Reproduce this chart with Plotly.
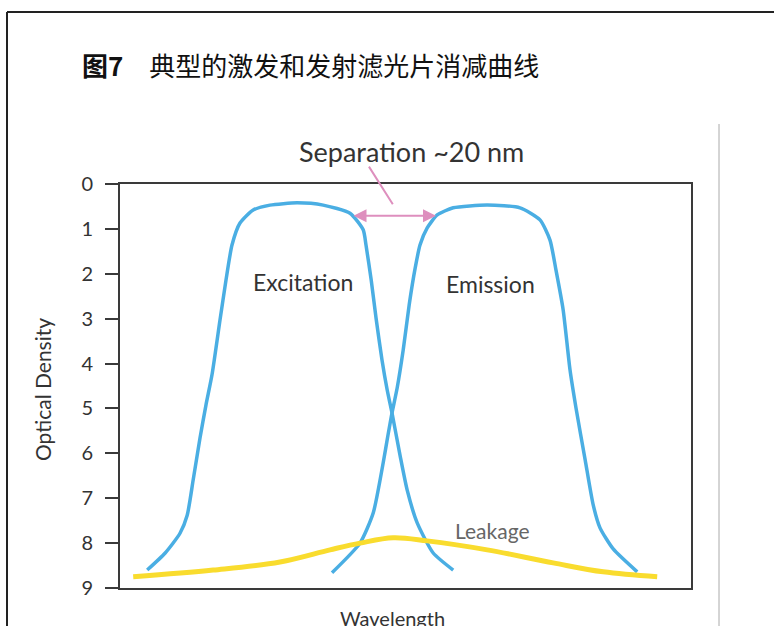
import plotly.graph_objects as go

# ---- data (wavelength in nm, optical density) ----
exc_wl = [446.8, 451.3, 455.0, 456.8, 458.3, 460.0, 461.5, 463.0, 465.0, 466.5, 468.0,
          470.0, 473.3, 477.5, 484.3, 490.8, 497.5, 500.8, 501.5, 502.8, 504.0, 505.5,
          506.8, 508.0, 510.0, 511.8, 514.3, 518.3, 523.3]
exc_od = [8.60, 8.22, 7.78, 7.38, 6.59, 5.66, 4.92, 4.25, 3.03, 2.14, 1.36,
          0.87, 0.58, 0.47, 0.42, 0.47, 0.65, 1.02, 1.36, 2.14, 2.98, 3.92,
          4.59, 5.10, 6.04, 6.82, 7.55, 8.22, 8.60]

emi_wl = [493.0, 500.0, 503.3, 505.8, 507.0, 508.0, 509.3, 510.8, 512.3, 513.8, 515.0,
          516.8, 519.3, 523.3, 531.8, 540.0, 545.0, 547.5, 549.0, 550.8, 552.5, 554.0,
          556.3, 558.3, 560.0, 563.3, 569.3]
emi_od = [8.66, 8.00, 7.33, 6.21, 5.59, 5.10, 4.54, 3.70, 2.69, 1.87, 1.36,
          0.98, 0.69, 0.53, 0.47, 0.53, 0.80, 1.25, 1.92, 2.81, 4.14, 4.99,
          6.15, 7.15, 7.66, 8.13, 8.64]

leak_wl = [443.3, 463.3, 480.0, 492.5, 500.0, 508.3, 516.8, 531.8, 548.3, 560.8, 574.3]
leak_od = [8.75, 8.60, 8.42, 8.15, 8.00, 7.88, 7.95, 8.15, 8.44, 8.64, 8.75]

y_ticks = [0, 1, 2, 3, 4, 5, 6, 7, 8, 9]

sep_from, sep_to, sep_od = 498.0, 519.0, 0.71

W, H = 774, 626
L, R, T, B = 120, 691, 184, 588


def px(xp):
    return (xp - L) / (R - L)


def py(yp):
    return (B - yp) / (B - T)


BLUE = "#4AAEE3"
YELLOW = "#F9DC2E"
PINK = "#DE8FBE"
DARK = "#3a3a3a"
FONT = "Lato"

fig = go.Figure()
fig.add_trace(go.Scatter(x=exc_wl, y=exc_od, mode="lines", line=dict(color=BLUE, width=3.5, shape="spline", smoothing=0.6), hoverinfo="skip"))
fig.add_trace(go.Scatter(x=emi_wl, y=emi_od, mode="lines", line=dict(color=BLUE, width=3.5, shape="spline", smoothing=0.6), hoverinfo="skip"))
fig.add_trace(go.Scatter(x=leak_wl, y=leak_od, mode="lines", line=dict(color=YELLOW, width=5, shape="spline", smoothing=1.0), hoverinfo="skip"))

fig.update_layout(
    width=W, height=H,
    margin=dict(l=L, r=W - R, t=T, b=H - B),
    paper_bgcolor="white", plot_bgcolor="white",
    showlegend=False,
    font=dict(family=FONT, color="#333333"),
    xaxis=dict(range=[440, 440 + (R - L) / 4.0], showticklabels=False, ticks="",
               showgrid=False, zeroline=False, showline=True, mirror=True,
               linecolor=DARK, linewidth=2),
    yaxis=dict(range=[9, 0], tickvals=y_ticks, ticktext=[str(v) for v in y_ticks],
               ticks="outside", ticklen=13, tickwidth=2, tickcolor=DARK,
               ticklabelstandoff=8,
               tickfont=dict(size=20, color="#333333", family=FONT),
               showgrid=False, zeroline=False, showline=True, mirror=True,
               linecolor=DARK, linewidth=2),
)

ann = []
ann.append(dict(xref="paper", yref="paper", x=px(80), y=py(65), xanchor="left", yanchor="middle",
                text="<b>图7</b>　典型的激发和发射滤光片消减曲线", showarrow=False,
                font=dict(family="Noto Sans CJK SC", size=26, color="#111111")))
ann.append(dict(xref="x", yref="paper", x=512.75, y=py(152), xanchor="center", yanchor="middle",
                text="Separation ~20 nm", showarrow=False, font=dict(size=27, color="#333333")))
ann.append(dict(xref="x", yref="y", x=485.75, y=2.18, text="Excitation", showarrow=False,
                font=dict(size=23, color="#333333")))
ann.append(dict(xref="x", yref="y", x=532.5, y=2.23, text="Emission", showarrow=False,
                font=dict(size=23, color="#333333")))
ann.append(dict(xref="x", yref="y", x=533.0, y=7.71, text="Leakage", showarrow=False,
                font=dict(size=21, color="#666666")))
ann.append(dict(xref="paper", yref="paper", x=px(42), y=py(390), xanchor="center", yanchor="middle",
                text="Optical Density", textangle=-90,
                showarrow=False, font=dict(size=21, color="#333333")))
ann.append(dict(xref="paper", yref="paper", x=px(392), y=py(604), xanchor="center", yanchor="top",
                text="Wavelength", showarrow=False, font=dict(size=20, color="#333333")))
# double-headed separation arrow
ann.append(dict(xref="x", yref="y", x=sep_to, y=sep_od, axref="x", ayref="y", ax=sep_from, ay=sep_od,
                text="", showarrow=True, arrowside="end+start", arrowhead=2, arrowsize=1.3,
                arrowwidth=2, arrowcolor=PINK, standoff=0, startstandoff=0))
# pointer line from label to arrow
ann.append(dict(xref="x", yref="y", x=508.2, y=0.45, axref="x", ayref="y", ax=502.0, ay=-0.42,
                text="", showarrow=True, arrowhead=0, arrowwidth=2, arrowcolor=PINK, standoff=0))
fig.update_layout(annotations=ann)

shapes = []
shapes.append(dict(type="line", xref="paper", yref="paper", x0=px(7), x1=px(774), y0=py(12), y1=py(12),
                   line=dict(color="#222222", width=2)))
shapes.append(dict(type="line", xref="paper", yref="paper", x0=px(7), x1=px(7), y0=py(12), y1=py(626),
                   line=dict(color="#222222", width=2)))
shapes.append(dict(type="line", xref="paper", yref="paper", x0=px(719), x1=px(719), y0=py(124), y1=py(626),
                   line=dict(color="#aaaaaa", width=1)))
fig.update_layout(shapes=shapes)

fig.write_html("out.html")
